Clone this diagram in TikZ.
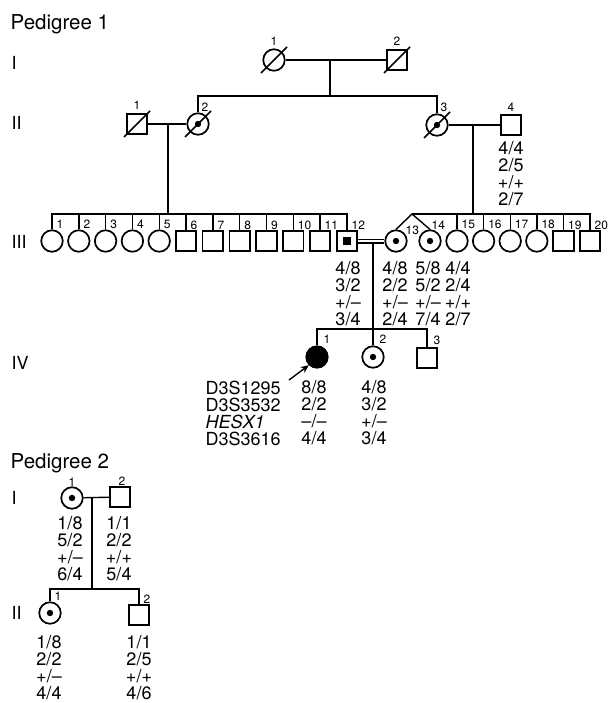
\documentclass[tikz,border=0pt]{standalone}
\usepackage{fontspec}
\setmainfont{TeX Gyre Heros}
\usetikzlibrary{arrows.meta}

\newcommand{\genofont}{\fontsize{18}{17}\selectfont}
\newcommand{\numfont}{\fontsize{12}{12}\selectfont}
\newcommand{\genfont}{\fontsize{18}{18}\selectfont}
\newcommand{\titlefont}{\fontsize{20.5}{20.5}\selectfont}

\begin{document}
\begin{tikzpicture}[
		% pixel grid of the figure: x to the right, y downwards
		x=1pt, y=-1pt,
		line width=1.4pt,
		female/.style={circle, draw, line width=1.7pt, minimum size=21.5pt, inner sep=0pt},
		male/.style={rectangle, draw, line width=1.7pt, minimum size=20.5pt, inner sep=0pt},
		carrier/.style={female, path picture={\fill (path picture bounding box.center) circle (3.2pt);}},
		malecarrier/.style={male, path picture={\fill ([shift={(-3.8,-3.8)}]path picture bounding box.center) rectangle ++(7.6,7.6);}},
		affected/.style={female, fill=black},
		slash/.style={line width=1.7pt},
		num/.style={font=\numfont, inner sep=0pt},
		geno/.style={font=\genofont, align=center, inner sep=0pt, anchor=north},
		gen/.style={font=\genfont, anchor=west, inner sep=0pt}
		]
		
		\useasboundingbox (0,0) rectangle (608,703);
		
		% ==========================================
		% 1. Pedigree 1: generations I and II
		% ==========================================
		\node[font=\titlefont, anchor=base west, inner sep=0pt] (title1) at (10,30) {Pedigree 1};
		\node[gen] (genI) at (11,63) {I};
		\node[gen] (genII) at (11,123) {II};
		\node[gen] (genIII) at (11,242) {III};
		\node[gen] (genIV) at (11,363) {IV};
		
		\node[female] (I1) at (274,60) {};
		\node[male] (I2) at (397,60) {};
		\node[num] (nI1) at (274,41) {1};
		\node[num] (nI2) at (397,41) {2};
		
		\node[male] (II1) at (137,124) {};
		\node[carrier] (II2) at (198,124) {};
		\node[carrier] (II3) at (437,125) {};
		\node[male] (II4) at (511,125) {};
		\node[num] (nII1) at (137,105) {1};
		\node[num] (nII2) at (205,107) {2};
		\node[num] (nII3) at (444,107) {3};
		\node[num] (nII4) at (511,107) {4};
		
		% deceased
		\foreach \n in {I1,I2,II1,II2,II3}
		\draw[slash] ([shift={(-13,13)}]\n.center) -- ([shift={(13,-13)}]\n.center);
		
		\node[geno] (gII4) at (511,141) {4/4\\2/5\\+/+\\2/7};
		
		% I1 x I2
		\coordinate (mI) at (330,60);
		\coordinate (sI) at (330,96);
		\draw (I1) -- (I2);
		\draw (mI) -- (sI);
		\draw (II2.north) |- (sI) -| (II3.north);
		
		% ==========================================
		% 2. Generation III
		% ==========================================
		\foreach \i in {1,...,5}
		\node[female] (III\i) at ({52+(\i-1)*26.8},241) {};
		\foreach \i in {6,...,11}
		\node[male] (III\i) at ({52+(\i-1)*26.8},241) {};
		\node[malecarrier] (III12) at (347,241) {};
		\node[carrier] (III13) at (396,241) {};
		\node[carrier] (III14) at (430,241) {};
		\foreach \i in {15,...,18}
		\node[female] (III\i) at ({457+(\i-15)*26.6},241) {};
		\foreach \i in {19,20}
		\node[male] (III\i) at ({457+(\i-15)*26.6},241) {};
		
		\foreach \i in {1,...,12,15,16,17,18,19,20}
		\node[num, anchor=south west] (nIII\i) at ([shift={(4,0)}]III\i.north) {\i};
		\node[num, anchor=south west] (nIII13) at (405,235) {13};
		\node[num, anchor=south west] (nIII14) at (431,230) {14};
		
		% II1 x II2
		\coordinate (mIIa) at (168,124);
		\coordinate (sIIIa) at (168,214);
		\draw (II1) -- (II2);
		\draw (mIIa) -- (sIIIa);
		\draw (III1.north) |- (sIIIa) -| (III12.north);
		\foreach \i in {2,...,11}
		\draw (III\i.north) -- (III\i.north |- sIIIa);
		
		% II3 x II4, twins 13 and 14
		\coordinate (mIIb) at (473,125);
		\coordinate (sIIIb) at (473,214);
		\coordinate (twin) at (412,214);
		\draw (II3) -- (II4);
		\draw (mIIb) -- (sIIIb);
		\draw (twin) -| (III20.north);
		\draw (III13.north) -- (twin) -- (III14.north);
		\foreach \i in {15,...,19}
		\draw (III\i.north) -- (III\i.north |- twin);
		
		\node[geno] (gIII12) at (348,261) {4/8\\3/2\\+/–\\3/4};
		\node[geno] (gIII13) at (395,261) {4/8\\2/2\\+/–\\2/4};
		\node[geno] (gIII14) at (428,261) {5/8\\5/2\\+/–\\7/4};
		\node[geno] (gIII15) at (458,261) {4/4\\2/4\\+/+\\2/7};
		
		% ==========================================
		% 3. Generation IV
		% ==========================================
		\node[affected] (IV1) at (317,357) {};
		\node[carrier] (IV2) at (373,357) {};
		\node[male] (IV3) at (427,358) {};
		\foreach \i in {1,2,3}
		\node[num, anchor=south west] (nIV\i) at ([shift={(6,-1.5)}]IV\i.north) {\i};
		
		% consanguineous mating III12 x III13
		\coordinate (mIII) at (373,243);
		\coordinate (sIV) at (373,329);
		\draw[double, double distance=2.6pt, line width=1.2pt] (III12) -- (III13);
		\draw (mIII) -- (IV2.north);
		\draw (IV1.north) |- (sIV) -| (IV3.north);
		
		% proband
		\coordinate (pointer) at (289,380);
		\draw[-{Stealth[length=8pt, width=7pt]}] (pointer) -- (IV1.south west);
		
		\node[geno, align=left, anchor=north west] (markers) at (205,380) {D3S1295\\D3S3532\\\textit{HESX1}\\D3S3616};
		\node[geno] (gIV1) at (314,380) {8/8\\2/2\\–/–\\4/4};
		\node[geno] (gIV2) at (374,380) {4/8\\3/2\\+/–\\3/4};
		
		% ==========================================
		% 4. Pedigree 2
		% ==========================================
		\node[font=\titlefont, anchor=base west, inner sep=0pt] (title2) at (10,468) {Pedigree 2};
		\node[gen] (genP2I) at (11,498) {I};
		\node[gen] (genP2II) at (11,613) {II};
		
		\node[carrier] (P2I1) at (72,498) {};
		\node[male] (P2I2) at (120,497) {};
		\node[num] (nP2I1) at (72,482) {1};
		\node[num] (nP2I2) at (122,481) {2};
		
		\node[carrier] (P2II1) at (50,613) {};
		\node[male] (P2II2) at (139,615) {};
		\node[num, anchor=south west] (nP2II1) at ([shift={(4,0)}]P2II1.north) {1};
		\node[num, anchor=south west] (nP2II2) at ([shift={(4,0)}]P2II2.north) {2};
		
		\coordinate (mP2) at (92,498);
		\coordinate (sP2) at (92,589);
		\draw (P2I1) -- (P2I2);
		\draw (mP2) -- (sP2);
		\draw (P2II1.north) |- (sP2) -| (P2II2.north);
		
		\node[geno] (gP2I1) at (70,516) {1/8\\5/2\\+/–\\6/4};
		\node[geno] (gP2I2) at (119,516) {1/1\\2/2\\+/+\\5/4};
		\node[geno] (gP2II1) at (49,635) {1/8\\2/2\\+/–\\4/4};
		\node[geno] (gP2II2) at (139,635) {1/1\\2/5\\+/+\\4/6};
		
	\end{tikzpicture}
\end{document}
